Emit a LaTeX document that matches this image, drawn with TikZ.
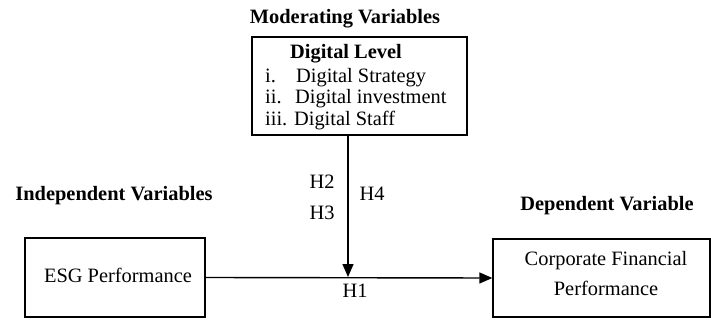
\documentclass[tikz,border=0pt]{standalone}
\usepackage{fontspec}
\setmainfont{Liberation Serif}
\usetikzlibrary{arrows.meta}
\tikzset{
  txt/.style={inner sep=0pt, text height=14pt, text depth=4.5pt,
    font=\fontsize{20.4pt}{24pt}\selectfont},
  hdr/.style={txt, font=\fontsize{20.4pt}{24pt}\selectfont\bfseries},
  box/.style={draw, line width=1.4pt, inner sep=0pt},
  arr/.style={line width=1.4pt, -{Triangle[length=13pt,width=11pt]}}
}
\begin{document}
\begin{tikzpicture}[x=1pt,y=-1pt]
\useasboundingbox (0,0) rectangle (711,320);

% headings
\node[hdr] (modh) at (345,19) {Moderating Variables};
\node[hdr] (indh) at (114,196) {Independent Variables};
\node[hdr] (deph) at (607,206) {Dependent Variable};

% moderating box and its contents
\node[box, minimum width=215pt, minimum height=98pt] (mod) at (359.5,86) {};
\node[hdr, anchor=west] (dl) at (290,54) {Digital Level};
\node[txt, anchor=west] (l1) at (265,78) {i.};
\node[txt, anchor=west] (t1) at (296,78) {Digital Strategy};
\node[txt, anchor=west] (l2) at (265,99) {ii.};
\node[txt, anchor=west] (t2) at (295,99) {Digital investment};
\node[txt, anchor=west] (t3) at (265,121) {iii. Digital Staff};

% independent and dependent boxes
\node[box, minimum width=180pt, minimum height=79pt] (esg) at (115,277.5) {};
\node[txt] (esgt) at (118,278) {ESG Performance};
\node[box, minimum width=217pt, minimum height=78pt] (cfp) at (601.5,278) {};
\node[txt] (cfp1) at (606,261) {Corporate Financial};
\node[txt] (cfp2) at (606,291) {Performance};

% connectors
\coordinate (j) at (348,277);
\draw[arr] (esg.east) -- (cfp.west);
\draw[arr] (mod.south -| j) -- (j);

% hypothesis labels
\node[txt] (h2) at (322,184) {H2};
\node[txt] (h3) at (322,215) {H3};
\node[txt] (h4) at (372,196) {H4};
\node[txt] (h1) at (355,293) {H1};
\end{tikzpicture}
\end{document}
